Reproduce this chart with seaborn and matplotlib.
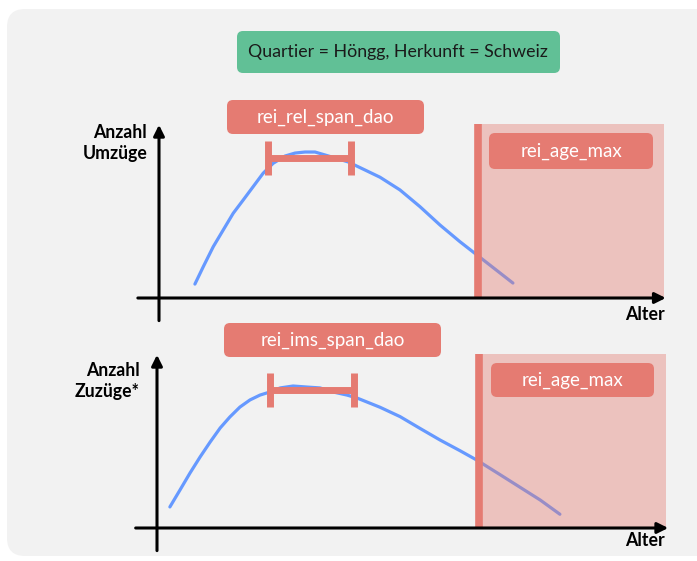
import numpy as np
import pandas as pd
import seaborn as sns
import matplotlib.pyplot as plt
from matplotlib.patches import FancyBboxPatch
from matplotlib.transforms import Affine2D

# curves: age (years) vs. number of moves (0-100 scale)
umz_age = [9.0, 11.1, 13.6, 16.1, 18.6, 21.1, 23.6, 26.1, 28.6, 31.6, 34.1, 36.6,
           39.1, 41.6, 44.1, 47.4, 51.6, 55.4, 60.4, 65.4, 70.4, 75.4, 88.7]
umz_count = [8.0, 18.0, 29.5, 39.1, 48.7, 56.3, 64.0, 71.7, 77.4, 81.6, 83.3, 83.9,
             83.9, 82.2, 80.5, 78.2, 73.6, 69.4, 62.1, 52.5, 42.0, 32.4, 8.6]

zuz_age = [3.2, 5.7, 8.2, 10.7, 13.2, 15.7, 18.1, 20.6, 23.1, 25.6, 28.1, 30.6, 33.8,
           37.3, 40.5, 43.7, 47.2, 49.7, 55.4, 60.4, 65.3, 70.3, 75.3, 79.4, 85.0,
           90.2, 95.2, 100.1]
zuz_count = [12.1, 21.8, 31.6, 40.8, 49.4, 57.5, 63.8, 69.5, 73.6, 76.4, 78.2, 80.5, 81.6,
             81.0, 80.5, 78.2, 76.4, 74.7, 69.4, 64.0, 57.3, 50.6, 44.4, 39.1, 31.0,
             23.4, 16.1, 7.9]

rel_span = [27.4, 48.1]
rel_level = 80.5
ims_span = [28.1, 48.9]
ims_level = 79.3
age_max = 80
age_end = 126.5

title = "Quartier = Höngg, Herkunft = Schweiz"
y_labels = ["Anzahl\nUmzüge", "Anzahl\nZuzüge*"]
span_labels = ["rei_rel_span_dao", "rei_ims_span_dao"]
max_label = "rei_age_max"
x_label = "Alter"

RED = "#e57b72"
BLUE = "#6699ff"
GREEN = "#61c096"
FONT = ["Lato", "DejaVu Sans"]

sns.set_theme(style="white")
plt.rcParams["font.family"] = FONT

W, H = 697, 561
fig = plt.figure(figsize=(W / 100, H / 100), dpi=100)
fig.patch.set_facecolor("white")
# pixel coordinates, y pointing down
px = Affine2D().scale(1 / 100, -1 / 100).translate(0, H / 100) + fig.dpi_scale_trans


def box(x0, y0, x1, y1, color, r=6, z=2):
    fig.patches.append(FancyBboxPatch((x0, y0), x1 - x0, y1 - y0,
                                      boxstyle=f"round,pad=0,rounding_size={r}",
                                      transform=px, facecolor=color, edgecolor="none",
                                      zorder=z))


def label(x, y, s, color="white", size=12, weight="normal", ha="center"):
    fig.text(x, y, s, transform=px, color=color, fontsize=size, fontweight=weight,
             ha=ha, va="center", zorder=5, linespacing=1.3)


# background panel
box(7, 9, 720, 556, "#f2f2f2", r=18, z=-2)
box(237, 31, 560, 73, GREEN)
label(398, 52, title, color="#1a1a1a", size=12.8)

panels = [
    dict(df=pd.DataFrame({"Alter": umz_age, "Anzahl": umz_count}), span=rel_span, level=rel_level,
         yax=159, xax=298, s=3.99, ylab=y_labels[0], ylab_xy=(147, 143),
         sbox=(227, 100, 424, 134), slab=span_labels[0], mbox=(489, 133, 653, 169), alter_y=315),
    dict(df=pd.DataFrame({"Alter": zuz_age, "Anzahl": zuz_count}), span=ims_span, level=ims_level,
         yax=157, xax=528, s=4.025, ylab=y_labels[1], ylab_xy=(140, 381),
         sbox=(224, 323, 441, 357), slab=span_labels[1], mbox=(491, 363, 654, 397), alter_y=541),
]

for p in panels:
    left = p["yax"]
    width = age_end * p["s"]
    ax = fig.add_axes([left / W, 1 - p["xax"] / H, width / W, 174 / H])
    ax.set_zorder(1)
    ax.set_xlim(0, age_end)
    ax.set_ylim(0, 100)
    ax.set_axis_off()
    ax.patch.set_alpha(0)

    sns.lineplot(data=p["df"], x="Alter", y="Anzahl", ax=ax, color=BLUE, lw=2.3, zorder=2)
    ax.axvspan(age_max, age_end, color=RED, alpha=0.4, lw=0, zorder=3)
    ax.axvline(age_max, color=RED, lw=5.5, zorder=4)

    mid = (p["span"][0] + p["span"][1]) / 2
    half = (p["span"][1] - p["span"][0]) / 2
    ax.errorbar(mid, p["level"], xerr=half, fmt="none", ecolor=RED, elinewidth=5,
                capsize=12.5, capthick=5, zorder=5)

    # axis arrows
    arrow = dict(arrowstyle="-|>", lw=2.2, color="black", mutation_scale=16,
                 shrinkA=0, shrinkB=0)
    ax.annotate("", xy=(age_end + 0.5, 0), xytext=(-5.3, 0), arrowprops=arrow,
                annotation_clip=False, zorder=6)
    ax.annotate("", xy=(0, 99.5), xytext=(0, -13), arrowprops=arrow,
                annotation_clip=False, zorder=6)

    box(*p["sbox"], RED)
    label((p["sbox"][0] + p["sbox"][2]) / 2, (p["sbox"][1] + p["sbox"][3]) / 2, p["slab"], size=13.5)
    box(*p["mbox"], RED)
    label((p["mbox"][0] + p["mbox"][2]) / 2, (p["mbox"][1] + p["mbox"][3]) / 2, max_label, size=13.5)
    label(p["ylab_xy"][0], p["ylab_xy"][1], p["ylab"], color="black", size=12.7,
          weight="bold", ha="right")
    label(665, p["alter_y"], x_label, color="black", size=12.8, weight="bold", ha="right")

fig.savefig("out.png", dpi=100)
